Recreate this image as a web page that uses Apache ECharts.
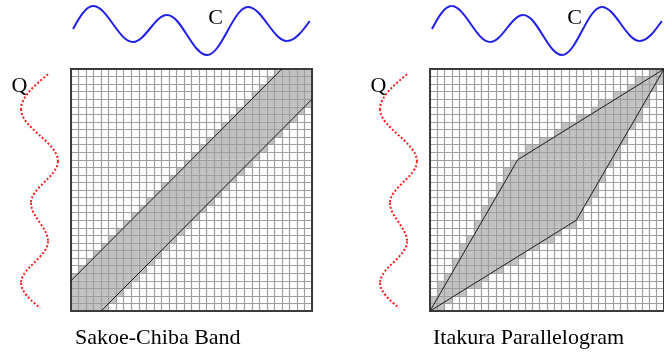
<!DOCTYPE html>
<html><head><meta charset="utf-8">
<script src="https://cdn.jsdelivr.net/npm/echarts@6/dist/echarts.min.js"></script>
<style>html,body{margin:0;padding:0;background:#fff}#c{width:664px;height:356px}</style>
</head><body><div id="c"></div>
<script>
// ---- data ----
const cells = 32;                       // matrix is cells x cells
const bandRadius = 4;                   // Sakoe-Chiba band half width (cells)
const bandUpper = [[0, 4], [28, 32]];   // band boundary lines (matrix coords)
const bandLower = [[4, 0], [32, 28]];
const itakuraPoly = [[0, 0], [12, 20], [32, 32], [20, 12]]; // parallelogram vertices
const cX = [0.27, 2.92, 8.23, 12.75, 18.06, 23.5, 28.7, 31.7];   // C wave: position along matrix columns
const cV = [0.04, 0.96, -0.48, 0.6, -1.0, 0.92, -0.44, 0.36];     // C wave amplitude
const qY = [31.3, 26.7, 19.8, 14.3, 9.2, 3.7, 0.4];               // Q wave: position along matrix rows
const qV = [0.45, -0.97, 0.97, -0.45, 0.45, -0.97, 0.03];         // Q wave amplitude
const titles = ['Sakoe-Chiba Band', 'Itakura Parallelogram'];
const waveLabels = ['C', 'Q'];

// ---- derived ----
function inPoly(x, y, poly) {
  let c = false;
  for (let i = 0, j = poly.length - 1; i < poly.length; j = i++) {
    const [xi, yi] = poly[i], [xj, yj] = poly[j];
    if (((yi > y) !== (yj > y)) && (x < (xj - xi) * (y - yi) / (yj - yi) + xi)) c = !c;
  }
  return c;
}
const sakoeCells = [], itakuraCells = [];
for (let i = 0; i < cells; i++) {
  for (let j = 0; j < cells; j++) {
    if (Math.abs(i - j) <= bandRadius) sakoeCells.push([i, j]);
    let hit = false;
    for (let a = 0; a < 4 && !hit; a++) for (let b = 0; b < 4 && !hit; b++) {
      if (inPoly(i + 0.125 + a * 0.25, j + 0.125 + b * 0.25, itakuraPoly)) hit = true;
    }
    if (hit) itakuraCells.push([i, j]);
  }
}
const cSegs = [], qSegs = [];
for (let k = 0; k < cX.length - 1; k++) cSegs.push([cX[k], cV[k], cX[k + 1], cV[k + 1]]);
for (let k = 0; k < qY.length - 1; k++) qSegs.push([qV[k], qY[k], qV[k + 1], qY[k + 1]]);
const itakuraLine = itakuraPoly.concat([itakuraPoly[0]]);

function waveRender(vertical, nSeg, style) {
  return (params, api) => {
    const a = api.coord([api.value(0), api.value(1)]);
    const b = api.coord([api.value(2), api.value(3)]);
    const first = params.dataIndex === 0, last = params.dataIndex === nSeg - 1;
    const dx = b[0] - a[0], dy = b[1] - a[1];
    let c1, c2;
    if (!vertical) {
      c1 = first ? [a[0] + 0.3 * dx, a[1] + 0.47 * dy] : [a[0] + 0.36 * dx, a[1]];
      c2 = last ? [b[0] - 0.3 * dx, b[1] - 0.47 * dy] : [b[0] - 0.36 * dx, b[1]];
    } else {
      c1 = first ? [a[0] + 0.47 * dx, a[1] + 0.3 * dy] : [a[0], a[1] + 0.36 * dy];
      c2 = last ? [b[0] - 0.47 * dx, b[1] - 0.3 * dy] : [b[0], b[1] - 0.36 * dy];
    }
    return { type: 'bezierCurve', shape: { x1: a[0], y1: a[1], x2: b[0], y2: b[1], cpx1: c1[0], cpy1: c1[1], cpx2: c2[0], cpy2: c2[1] },
      style: Object.assign({ fill: null }, style) };
  };
}

const SERIF = '"Liberation Serif","DejaVu Serif",serif';
const matrixAxis = (gi) => ({
  type: 'value', gridIndex: gi, min: 0, max: cells, interval: 1, z: 3,
  axisLine: { show: false }, axisTick: { show: false }, axisLabel: { show: false },
  splitLine: { show: true, lineStyle: { color: '#9e9e9e', width: 1.2 } }
});
const hidden = (gi, min, max) => ({ type: 'value', gridIndex: gi, min, max, show: false, splitLine: { show: false } });

const panels = [71, 430];
const grid = [], xAxis = [], yAxis = [], series = [], graphic = [];
panels.forEach((left, p) => {
  grid.push({ left, top: 69, width: 241, height: 242, show: true, borderColor: '#3c3c3c', borderWidth: 2, z: 4, backgroundColor: 'transparent' });
  grid.push({ left, top: 0, width: 241, height: 60, show: false });
  grid.push({ left: left - 54.3, top: 69, width: 45.6, height: 242, show: false });
  const g = p * 3;
  xAxis.push(matrixAxis(g)); yAxis.push(matrixAxis(g));
  xAxis.push(hidden(g + 1, 0, cells)); yAxis.push(hidden(g + 1, -1.2, 1.2));
  xAxis.push(hidden(g + 2, -1.2, 1.2)); yAxis.push(hidden(g + 2, 0, cells));

  series.push({
    type: 'custom', xAxisIndex: g, yAxisIndex: g, z: 1, silent: true,
    data: p === 0 ? sakoeCells : itakuraCells,
    renderItem: (params, api) => {
      const p0 = api.coord([api.value(0), api.value(1) + 1]);
      const p1 = api.coord([api.value(0) + 1, api.value(1)]);
      return { type: 'rect', shape: { x: p0[0], y: p0[1], width: p1[0] - p0[0], height: p1[1] - p0[1] }, style: { fill: '#c2c2c2' } };
    }
  });
  const lineStyle = { color: '#1a1a1a', width: 1 };
  if (p === 0) {
    series.push({ type: 'line', xAxisIndex: g, yAxisIndex: g, z: 5, data: bandUpper, symbol: 'none', lineStyle, silent: true });
    series.push({ type: 'line', xAxisIndex: g, yAxisIndex: g, z: 5, data: bandLower, symbol: 'none', lineStyle, silent: true });
  } else {
    series.push({ type: 'line', xAxisIndex: g, yAxisIndex: g, z: 5, data: itakuraLine, symbol: 'none', lineStyle, silent: true });
  }
  series.push({ type: 'custom', xAxisIndex: g + 1, yAxisIndex: g + 1, data: cSegs, silent: true,
    encode: { x: [0, 2], y: [1, 3] },
    renderItem: waveRender(false, cSegs.length, { stroke: '#1f1fe6', lineWidth: 2 }) });
  series.push({ type: 'custom', xAxisIndex: g + 2, yAxisIndex: g + 2, data: qSegs, silent: true,
    encode: { x: [0, 2], y: [1, 3] },
    renderItem: waveRender(true, qSegs.length, { stroke: '#ff1f1f', lineWidth: 2, lineDash: [2, 2] }) });

  const dx = left - 71;
  graphic.push({ type: 'text', style: { text: titles[p], x: 75 + (p ? 358 : 0), y: 338.5, font: '22px ' + SERIF, fill: '#000', verticalAlign: 'middle' } });
  graphic.push({ type: 'text', style: { text: waveLabels[0], x: 215.5 + dx, y: 18.5, font: '22px ' + SERIF, fill: '#000', align: 'center', verticalAlign: 'middle' } });
  graphic.push({ type: 'text', style: { text: waveLabels[1], x: 19.5 + dx, y: 86, font: '22px ' + SERIF, fill: '#000', align: 'center', verticalAlign: 'middle' } });
});

const chart = echarts.init(document.getElementById('c'), null, { renderer: 'canvas' });
chart.setOption({ animation: false, backgroundColor: '#fff', grid, xAxis, yAxis, series, graphic });
</script></body></html>
